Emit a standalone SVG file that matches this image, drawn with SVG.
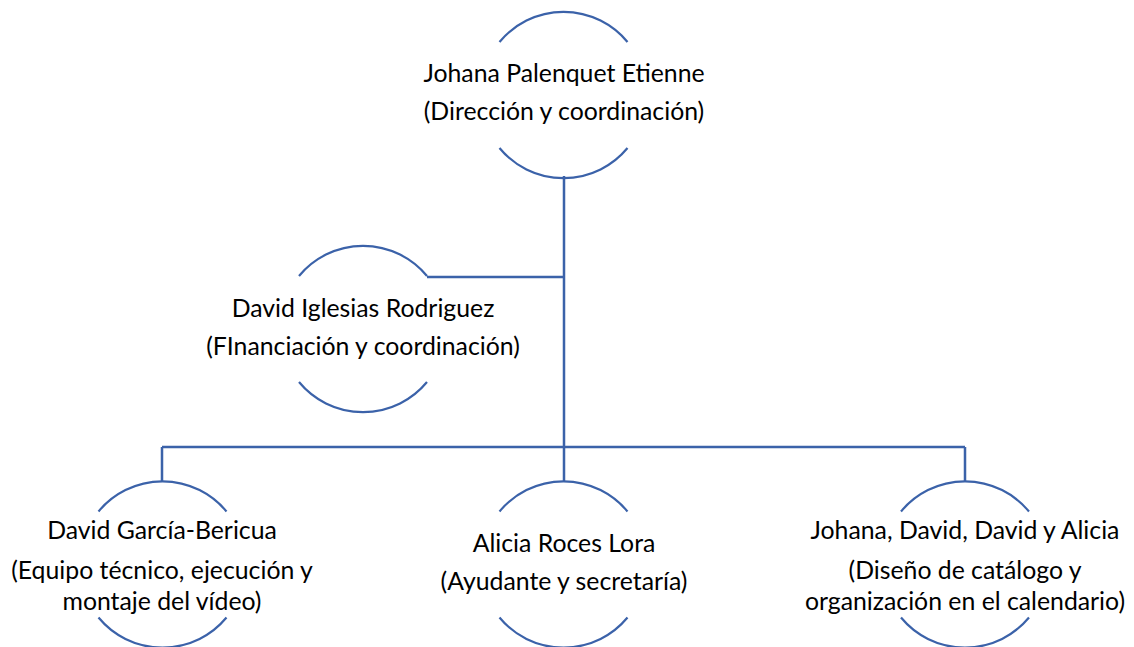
<svg xmlns="http://www.w3.org/2000/svg" width="1134" height="647" viewBox="0 0 1134 647">
<style>
.arc{fill:none;stroke:#3b62a9;stroke-width:2.2}
.ln{fill:none;stroke:#3b62a9;stroke-width:2.5}
text{font-family:Lato,"Liberation Sans",sans-serif;font-size:24.8px;fill:#000;text-anchor:middle}
</style>
<rect width="1134" height="647" fill="#fff"/>
<g id="connectors">
<path class="ln" d="M564 176V447M427 277H564M162 447H965M162 447V482M564 447V482M965 447V482"/>
</g>
<g id="node-johana">
<path class="arc" d="M499.5 42A83 83 0 0 1 627.5 42M499.5 148A83 83 0 0 0 627.5 148"/>
<text x="564" y="82">Johana Palenquet Etienne</text>
<text x="564" y="120">(Dirección y coordinación)</text>
</g>
<g id="node-david-iglesias">
<path class="arc" d="M299 276A83 83 0 0 1 427 276M299 382A83 83 0 0 0 427 382"/>
<text x="363" y="317">David Iglesias Rodriguez</text>
<text x="363" y="355">(FInanciación y coordinación)</text>
</g>
<g id="node-david-garcia">
<path class="arc" d="M98.5 511.5A83 83 0 0 1 226.5 511.5M98.5 617.5A83 83 0 0 0 226.5 617.5"/>
<text x="162" y="539">David García-Bericua</text>
<text x="162" y="579">(Equipo técnico, ejecución y</text>
<text x="162" y="610">montaje del vídeo)</text>
</g>
<g id="node-alicia">
<path class="arc" d="M499.5 511.5A83 83 0 0 1 627.5 511.5M499.5 617.5A83 83 0 0 0 627.5 617.5"/>
<text x="564" y="552">Alicia Roces Lora</text>
<text x="564" y="590">(Ayudante y secretaría)</text>
</g>
<g id="node-todos">
<path class="arc" d="M901 511.5A83 83 0 0 1 1029 511.5M901 617.5A83 83 0 0 0 1029 617.5"/>
<text x="965" y="539">Johana, David, David y Alicia</text>
<text x="965" y="579">(Diseño de catálogo y</text>
<text x="965" y="610">organización en el calendario)</text>
</g>
</svg>
